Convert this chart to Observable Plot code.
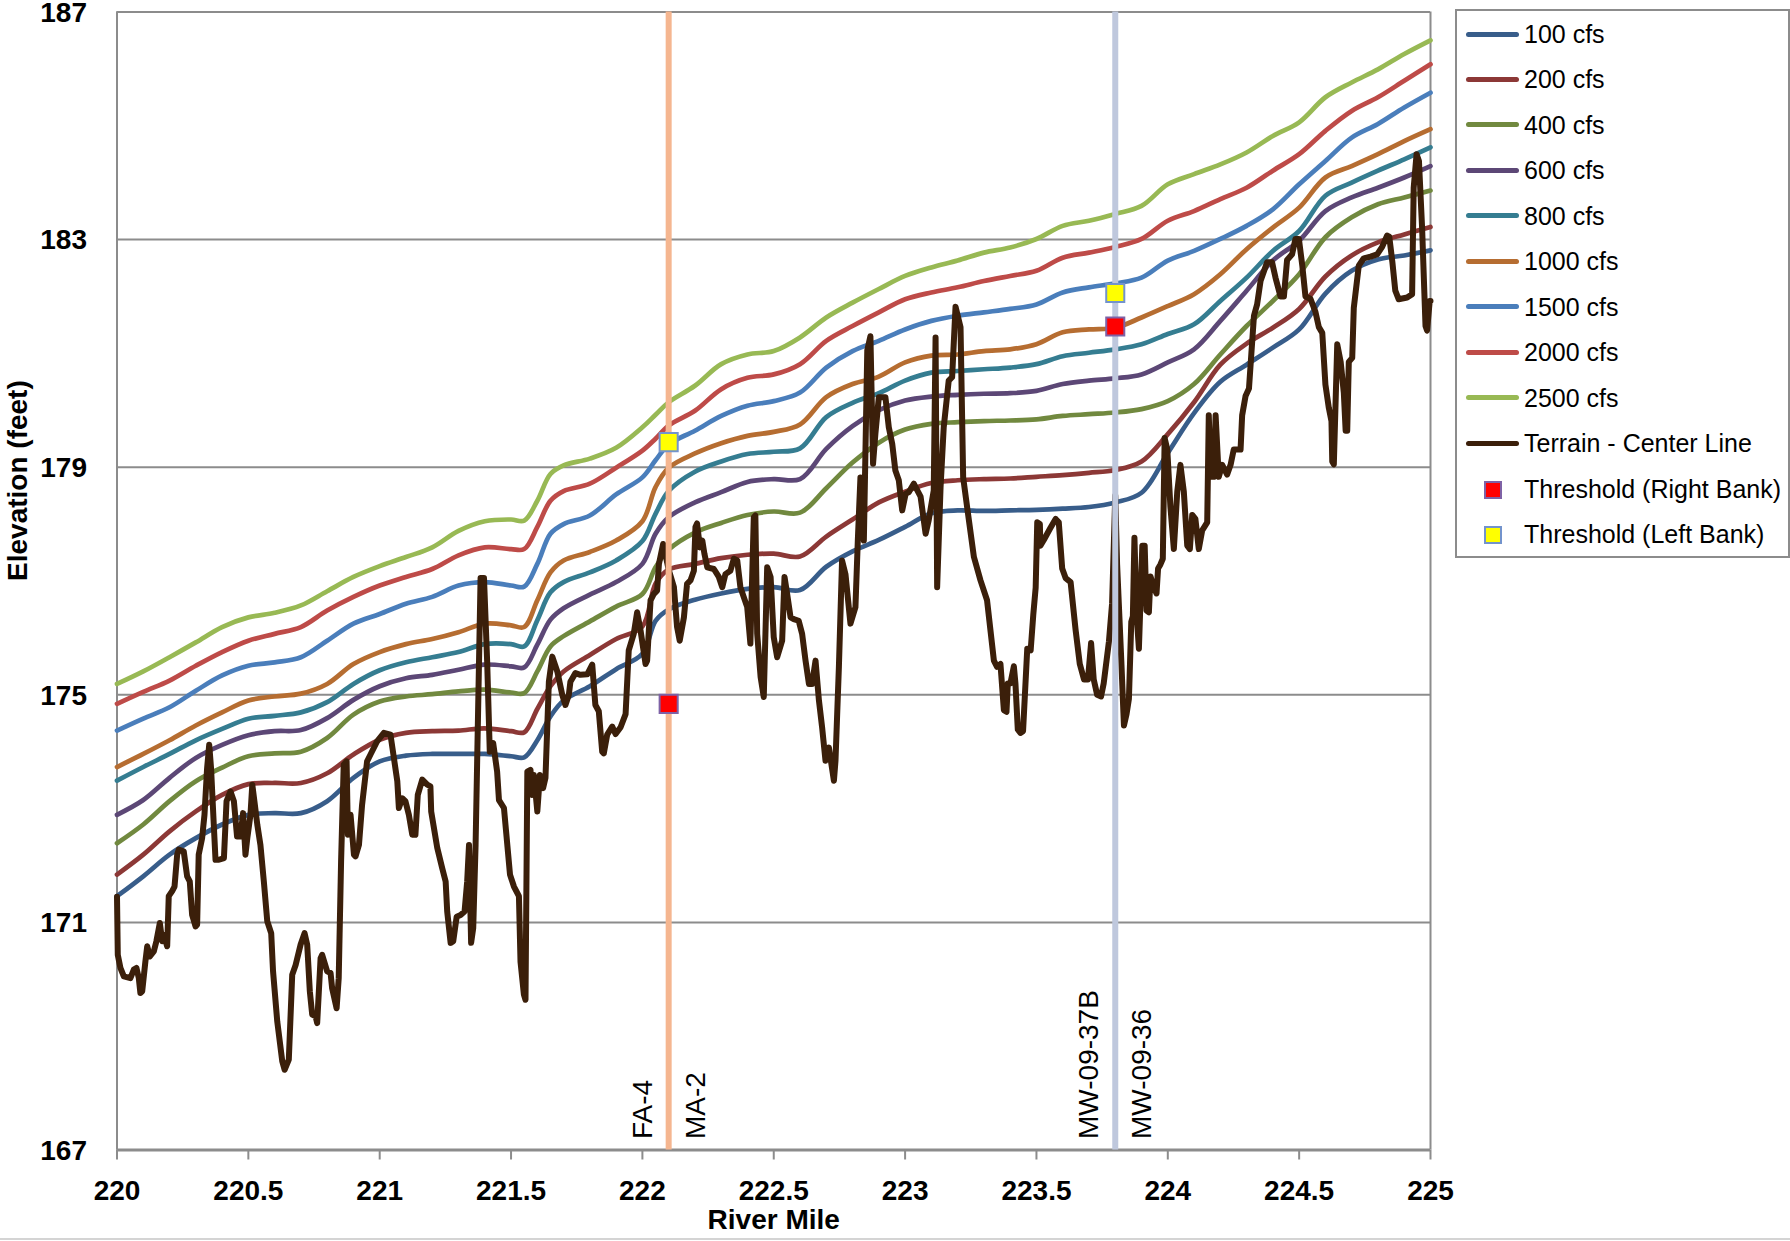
<!DOCTYPE html>
<html>
<head>
<meta charset="utf-8">
<script src="https://cdn.jsdelivr.net/npm/d3@7"></script>
<script src="https://cdn.jsdelivr.net/npm/@observablehq/plot@0.6"></script>
<style>
  html, body { margin: 0; padding: 0; background: #fff; overflow: hidden; }
  #wrap { position: relative; width: 1790px; height: 1241px; font-family: "Liberation Sans", Arial, sans-serif; }
  #legend { position: absolute; left: 1455px; top: 9px; width: 331px; height: 545px; border: 2px solid #8c8c8c; background: #fff; box-sizing: content-box; }
  .row { position: absolute; left: 0; height: 0; }
  .sym-line { position: absolute; left: 9px; width: 53px; height: 5px; top: -2.5px; border-radius: 3px; }
  .sym-sq { position: absolute; left: 27px; width: 14px; height: 14px; top: -8px; border: 2px solid; }
  .lbl { position: absolute; left: 67px; top: -15px; font-size: 25px; line-height: 30px; white-space: nowrap; color: #000; }
  #bottomline { position: absolute; left: 0; top: 1238px; width: 1790px; height: 2px; background: #d4d4d4; }
</style>
</head>
<body>
<div id="wrap"><div id="bottomline"></div></div>
<script>
// ---------------- data ----------------
const flowMiles = [
  220.0, 220.1, 220.2, 220.3, 220.4, 220.5, 220.6, 220.7, 220.8, 220.9,
  221.0, 221.1, 221.2, 221.3, 221.4, 221.5, 221.55, 221.6, 221.65, 221.7,
  221.8, 221.9, 222.0, 222.05, 222.1, 222.2, 222.3, 222.4, 222.5, 222.6,
  222.7, 222.8, 222.9, 223.0, 223.1, 223.2, 223.3, 223.4, 223.5, 223.6,
  223.7, 223.8, 223.9, 224.0, 224.1, 224.2, 224.3, 224.4, 224.5, 224.6,
  224.7, 224.8, 224.9, 225.0
];
const q100 = [
  171.46, 171.81, 172.19, 172.48, 172.72, 172.89, 172.92, 172.92, 173.13, 173.54,
  173.83, 173.93, 173.96, 173.96, 173.96, 173.92, 173.90, 174.20, 174.62, 174.90,
  175.15, 175.45, 175.72, 176.30, 176.50, 176.67, 176.78, 176.86, 176.89, 176.84,
  177.25, 177.52, 177.72, 177.95, 178.19, 178.24, 178.23, 178.24, 178.25, 178.27,
  178.30, 178.38, 178.55, 179.25, 179.95, 180.50, 180.80, 181.10, 181.42, 182.05,
  182.45, 182.65, 182.72, 182.81
];
const q200 = [
  171.84, 172.19, 172.60, 172.95, 173.24, 173.43, 173.45, 173.45, 173.62, 173.95,
  174.21, 174.33, 174.36, 174.37, 174.41, 174.36, 174.34, 174.75, 175.15, 175.41,
  175.70, 175.98, 176.20, 176.95, 177.20, 177.30, 177.40, 177.46, 177.48, 177.43,
  177.78, 178.08, 178.38, 178.57, 178.72, 178.77, 178.79, 178.80, 178.83, 178.86,
  178.90, 178.95, 179.10, 179.58, 180.14, 180.80, 181.17, 181.45, 181.78, 182.35,
  182.72, 182.95, 183.09, 183.22
];
const q400 = [
  172.39, 172.72, 173.13, 173.48, 173.72, 173.92, 173.97, 174.00, 174.24, 174.65,
  174.88, 174.97, 175.01, 175.06, 175.09, 175.04, 175.03, 175.41, 175.85, 176.03,
  176.29, 176.55, 176.77, 177.24, 177.55, 177.85, 178.02, 178.16, 178.22, 178.20,
  178.63, 179.08, 179.43, 179.66, 179.76, 179.79, 179.81, 179.82, 179.84, 179.90,
  179.93, 179.96, 180.02, 180.16, 180.46, 180.98, 181.48, 181.92, 182.39, 183.04,
  183.39, 183.62, 183.74, 183.86
];
const q600 = [
  172.89, 173.15, 173.54, 173.89, 174.12, 174.29, 174.36, 174.38, 174.59, 174.91,
  175.15, 175.29, 175.35, 175.44, 175.53, 175.50, 175.48, 175.88, 176.32, 176.52,
  176.76, 176.98, 177.30, 177.83, 178.12, 178.38, 178.56, 178.74, 178.79, 178.79,
  179.32, 179.72, 180.00, 180.17, 180.24, 180.27, 180.29, 180.30, 180.34, 180.46,
  180.52, 180.56, 180.63, 180.84, 181.07, 181.57, 182.10, 182.63, 182.98, 183.50,
  183.74, 183.91, 184.09, 184.29
];
const q800 = [
  173.49, 173.73, 173.96, 174.20, 174.40, 174.58, 174.63, 174.69, 174.87, 175.19,
  175.43, 175.57, 175.66, 175.75, 175.89, 175.89, 175.85, 176.31, 176.80, 176.98,
  177.15, 177.36, 177.70, 178.18, 178.58, 178.92, 179.10, 179.23, 179.27, 179.33,
  179.88, 180.13, 180.30, 180.52, 180.66, 180.69, 180.72, 180.75, 180.81, 180.95,
  181.01, 181.07, 181.16, 181.34, 181.51, 181.92, 182.33, 182.80, 183.15, 183.77,
  184.00, 184.21, 184.41, 184.62
];
const q1000 = [
  173.73, 173.96, 174.20, 174.46, 174.69, 174.90, 174.97, 175.02, 175.19, 175.54,
  175.75, 175.89, 175.98, 176.10, 176.25, 176.22, 176.19, 176.66, 177.15, 177.36,
  177.51, 177.71, 178.05, 178.65, 178.99, 179.24, 179.42, 179.55, 179.62, 179.75,
  180.23, 180.46, 180.59, 180.84, 180.96, 180.98, 181.04, 181.07, 181.16, 181.37,
  181.42, 181.45, 181.63, 181.83, 182.04, 182.39, 182.83, 183.21, 183.56, 184.09,
  184.29, 184.50, 184.73, 184.94
];
const q1500 = [
  174.37, 174.58, 174.78, 175.07, 175.34, 175.51, 175.57, 175.66, 175.95, 176.25,
  176.42, 176.60, 176.72, 176.92, 176.98, 176.92, 176.90, 177.30, 177.83, 178.00,
  178.15, 178.52, 178.82, 179.12, 179.40, 179.64, 179.90, 180.08, 180.16, 180.31,
  180.75, 181.04, 181.22, 181.42, 181.57, 181.66, 181.72, 181.78, 181.86, 182.07,
  182.16, 182.23, 182.33, 182.63, 182.80, 183.01, 183.24, 183.53, 183.97, 184.38,
  184.79, 185.03, 185.32, 185.58
];
const q2000 = [
  174.84, 175.05, 175.25, 175.51, 175.75, 175.95, 176.07, 176.19, 176.48, 176.72,
  176.92, 177.07, 177.21, 177.45, 177.59, 177.56, 177.56, 177.95, 178.41, 178.58,
  178.71, 178.99, 179.29, 179.50, 179.73, 179.99, 180.37, 180.57, 180.63, 180.81,
  181.22, 181.48, 181.72, 181.95, 182.07, 182.16, 182.27, 182.36, 182.45, 182.68,
  182.77, 182.87, 183.01, 183.33, 183.50, 183.71, 183.91, 184.21, 184.50, 184.91,
  185.26, 185.50, 185.79, 186.08
];
const q2500 = [
  175.19, 175.41, 175.66, 175.92, 176.19, 176.36, 176.44, 176.57, 176.82, 177.07,
  177.26, 177.42, 177.59, 177.88, 178.05, 178.08, 178.06, 178.41, 178.88, 179.03,
  179.15, 179.34, 179.70, 179.92, 180.14, 180.43, 180.81, 180.98, 181.04, 181.28,
  181.63, 181.89, 182.13, 182.36, 182.51, 182.63, 182.77, 182.86, 183.01, 183.24,
  183.33, 183.45, 183.59, 183.97, 184.15, 184.32, 184.53, 184.82, 185.06, 185.50,
  185.76, 185.99, 186.26, 186.50
];
const flowNames = ["100 cfs", "200 cfs", "400 cfs", "600 cfs", "800 cfs", "1000 cfs", "1500 cfs", "2000 cfs", "2500 cfs"];
const flowValues = [q100, q200, q400, q600, q800, q1000, q1500, q2000, q2500];

// Terrain - Center Line: [river mile, elevation]
const terrainProfile = [
  [220.000,171.45],[220.003,170.43],[220.013,170.20],[220.026,170.05],[220.051,170.02],[220.064,170.17],
  [220.074,170.20],[220.083,170.02],[220.089,169.76],[220.096,169.79],[220.108,170.31],[220.115,170.58],
  [220.125,170.40],[220.140,170.49],[220.150,170.67],[220.163,170.99],[220.172,170.67],[220.178,170.78],
  [220.191,170.58],[220.197,171.46],[220.210,171.55],[220.219,171.63],[220.229,172.19],[220.235,172.28],
  [220.254,172.25],[220.267,171.81],[220.277,171.72],[220.286,171.13],[220.299,170.93],[220.305,170.96],
  [220.311,172.19],[220.324,172.48],[220.333,172.89],[220.343,173.71],[220.351,174.12],[220.358,173.71],
  [220.369,172.66],[220.375,172.10],[220.388,172.10],[220.407,172.13],[220.417,173.13],[220.432,173.30],
  [220.445,173.13],[220.457,172.51],[220.470,172.51],[220.480,172.92],[220.489,172.19],[220.496,172.48],
  [220.508,172.89],[220.515,173.42],[220.523,173.13],[220.534,172.72],[220.546,172.36],[220.559,171.72],
  [220.572,171.02],[220.587,170.81],[220.594,170.14],[220.610,169.26],[220.629,168.56],[220.638,168.41],
  [220.654,168.59],[220.667,170.08],[220.680,170.25],[220.699,170.61],[220.714,170.81],[220.724,170.61],
  [220.734,169.79],[220.743,169.38],[220.756,169.35],[220.762,169.23],[220.775,170.37],[220.781,170.43],
  [220.800,170.14],[220.813,170.11],[220.819,169.84],[220.836,169.49],[220.844,170.02],[220.853,172.07],
  [220.863,173.77],[220.874,173.83],[220.879,172.54],[220.889,172.89],[220.902,172.19],[220.908,172.16],
  [220.921,172.36],[220.933,173.07],[220.952,173.83],[220.965,173.95],[220.990,174.18],[221.016,174.33],
  [221.041,174.30],[221.054,173.89],[221.067,173.48],[221.073,173.01],[221.086,173.18],[221.098,173.13],
  [221.111,172.89],[221.124,172.54],[221.136,172.54],[221.145,173.24],[221.162,173.51],[221.181,173.42],
  [221.193,173.39],[221.196,172.95],[221.219,172.31],[221.238,171.95],[221.251,171.72],[221.257,171.19],
  [221.270,170.64],[221.280,170.67],[221.293,171.10],[221.308,171.13],[221.323,171.19],[221.333,171.72],
  [221.340,172.36],[221.348,170.64],[221.356,170.90],[221.365,172.36],[221.371,173.83],[221.384,177.05],
  [221.397,177.05],[221.409,175.59],[221.419,174.00],[221.432,174.15],[221.447,173.65],[221.454,173.15],
  [221.473,173.01],[221.496,171.84],[221.511,171.63],[221.530,171.46],[221.536,170.31],[221.549,169.73],
  [221.555,169.64],[221.562,173.65],[221.574,173.68],[221.580,173.24],[221.587,173.59],[221.600,172.95],
  [221.610,173.59],[221.622,173.36],[221.631,173.54],[221.644,175.23],[221.657,175.67],[221.676,175.41],
  [221.695,175.00],[221.707,174.82],[221.720,175.00],[221.726,175.23],[221.745,175.38],[221.764,175.35],
  [221.790,175.36],[221.809,175.53],[221.821,174.82],[221.834,174.71],[221.847,174.00],[221.853,173.97],
  [221.866,174.30],[221.885,174.44],[221.898,174.31],[221.917,174.43],[221.936,174.66],[221.948,175.78],
  [221.967,176.07],[221.980,176.45],[221.993,176.13],[222.012,175.54],[222.018,175.60],[222.031,176.66],
  [222.043,176.77],[222.056,176.83],[222.063,177.30],[222.079,177.65],[222.100,177.20],[222.120,176.89],
  [222.132,176.19],[222.142,175.95],[222.158,176.36],[222.170,176.95],[222.183,177.01],[222.196,177.18],
  [222.202,177.95],[222.208,178.01],[222.219,177.59],[222.228,177.71],[222.236,177.48],[222.247,177.24],
  [222.272,177.21],[222.291,177.07],[222.304,176.89],[222.316,177.12],[222.335,177.18],[222.348,177.39],
  [222.361,177.36],[222.373,176.89],[222.399,176.54],[222.411,175.90],[222.424,178.12],[222.430,178.15],
  [222.437,176.07],[222.450,175.31],[222.462,174.96],[222.475,177.24],[222.488,177.07],[222.500,176.01],
  [222.513,175.66],[222.532,175.95],[222.541,177.07],[222.551,176.77],[222.564,176.36],[222.576,176.33],
  [222.595,176.30],[222.608,176.07],[222.621,175.60],[222.634,175.19],[222.646,175.19],[222.659,175.60],
  [222.672,174.90],[222.684,174.43],[222.697,173.84],[222.710,174.07],[222.729,173.49],[222.735,173.84],
  [222.748,175.49],[222.760,177.36],[222.773,177.12],[222.792,176.25],[222.811,176.54],[222.820,177.71],
  [222.830,178.82],[222.843,177.71],[222.856,181.05],[222.868,181.30],[222.878,179.06],[222.887,179.59],
  [222.900,180.23],[222.925,180.23],[222.938,179.70],[222.951,179.41],[222.963,178.94],[222.976,178.77],
  [222.989,178.24],[223.002,178.53],[223.014,178.56],[223.033,178.71],[223.059,178.48],[223.078,177.83],
  [223.090,178.07],[223.109,178.59],[223.116,181.28],[223.122,176.89],[223.135,178.65],[223.147,179.70],
  [223.166,180.52],[223.179,180.58],[223.192,181.82],[223.211,181.46],[223.221,178.82],[223.236,178.30],
  [223.262,177.42],[223.287,177.01],[223.312,176.66],[223.338,175.60],[223.350,175.49],[223.363,175.54],
  [223.376,174.73],[223.386,174.70],[223.391,175.20],[223.401,175.20],[223.414,175.50],[223.420,175.20],
  [223.429,174.39],[223.439,174.33],[223.449,174.36],[223.465,175.81],[223.478,175.78],[223.488,176.41],
  [223.497,176.88],[223.503,178.03],[223.513,178.00],[223.515,177.62],[223.528,177.72],[223.541,177.83],
  [223.553,177.93],[223.573,178.09],[223.585,178.03],[223.598,177.22],[223.611,177.05],[223.630,176.98],
  [223.649,176.14],[223.665,175.54],[223.681,175.27],[223.696,175.27],[223.708,175.91],[223.718,175.27],
  [223.731,175.00],[223.746,174.97],[223.756,175.20],[223.776,175.94],[223.788,176.61],[223.800,178.50],
  [223.807,177.29],[223.823,175.60],[223.833,174.46],[223.843,174.66],[223.852,174.93],[223.861,176.28],
  [223.867,176.38],[223.873,177.76],[223.881,176.42],[223.890,175.81],[223.903,177.62],[223.912,177.62],
  [223.919,176.48],[223.928,176.45],[223.934,177.08],[223.947,176.88],[223.957,176.78],[223.963,177.22],
  [223.972,177.29],[223.981,177.39],[223.988,179.51],[223.998,179.31],[224.010,178.30],[224.023,177.56],
  [224.036,178.57],[224.048,179.04],[224.061,178.57],[224.074,177.62],[224.084,177.56],[224.093,178.16],
  [224.105,178.09],[224.118,177.56],[224.131,177.89],[224.150,178.03],[224.156,179.91],[224.163,178.83],
  [224.175,178.83],[224.182,179.91],[224.194,178.83],[224.207,179.04],[224.226,178.87],[224.239,179.04],
  [224.251,179.31],[224.264,179.31],[224.277,179.31],[224.283,179.91],[224.296,180.25],[224.309,180.38],
  [224.318,180.99],[224.328,181.66],[224.340,181.86],[224.353,182.27],[224.378,182.60],[224.397,182.60],
  [224.410,182.33],[224.429,182.00],[224.442,182.00],[224.454,182.64],[224.473,182.74],[224.486,183.01],
  [224.499,183.01],[224.512,182.54],[224.524,182.00],[224.543,181.96],[224.562,181.73],[224.575,181.46],
  [224.588,181.36],[224.600,180.45],[224.613,180.04],[224.623,179.81],[224.626,179.10],[224.632,179.05],
  [224.645,181.16],[224.658,180.85],[224.670,180.31],[224.677,179.64],[224.683,179.64],[224.689,180.85],
  [224.702,180.92],[224.708,181.80],[224.727,182.54],[224.746,182.67],[224.772,182.70],[224.797,182.74],
  [224.816,182.87],[224.835,183.07],[224.843,183.05],[224.855,182.60],[224.866,182.10],[224.879,181.95],
  [224.911,181.98],[224.930,182.04],[224.936,183.91],[224.947,184.50],[224.956,184.38],[224.968,183.21],
  [224.981,181.48],[224.987,181.40],[224.997,181.92],[225.000,181.92]
];

const rightBankMile = [222.1, 223.8];
const rightBankElev = [174.84, 181.47];
const leftBankMile = [222.1, 223.8];
const leftBankElev = [179.44, 182.06];

const wellLineMiles = [222.1, 223.8];
const wellLeftNames = ["FA-4", "MW-09-37B"];
const wellLeftMiles = [222.1, 223.8];
const wellRightNames = ["MA-2", "MW-09-36"];
const wellRightMiles = [222.1, 223.8];

const xTicks = [220, 220.5, 221, 221.5, 222, 222.5, 223, 223.5, 224, 224.5, 225];
const yTicks = [167, 171, 175, 179, 183, 187];

// ---------------- styles ----------------
const flowColors = ["#385D8A", "#8C3836", "#71893F", "#5C4776", "#357D91", "#B66D31", "#4A7EBB", "#BE4B48", "#98B954"];
const terrainColor = "#3B1F0A";
const wellLineColors = ["#F5B690", "#BFC8DD"];
const gridColor = "#8c8c8c";

// ---------------- build ----------------
const flowData = flowNames.flatMap((name, k) =>
  flowMiles.map((m, i) => ({series: name, mile: m, elev: flowValues[k][i]})));
const terrain = terrainProfile.map(([mile, elev]) => ({mile, elev}));
const rightBank = rightBankMile.map((m, i) => ({mile: m, elev: rightBankElev[i]}));
const leftBank = leftBankMile.map((m, i) => ({mile: m, elev: leftBankElev[i]}));
const wellLines = wellLineMiles.map((m, i) => ({mile: m, color: wellLineColors[i]}));
const wellsLeft = wellLeftNames.map((n, i) => ({name: n, mile: wellLeftMiles[i], base: yTicks[0]}));
const wellsRight = wellRightNames.map((n, i) => ({name: n, mile: wellRightMiles[i], base: yTicks[0]}));

const chart = Plot.plot({
  width: 1790,
  height: 1241,
  marginLeft: 116.5,
  marginRight: 360,
  marginTop: 11.4,
  marginBottom: 91.5,
  x: {domain: [220, 225]},
  y: {domain: [167, 187]},
  style: {fontFamily: "'Liberation Sans', Arial, sans-serif", background: "transparent", color: "black", overflow: "visible"},
  marks: [
    Plot.ruleY(yTicks.slice(1), {stroke: gridColor, strokeWidth: 2}),
    Plot.ruleX([220, 225], {stroke: gridColor, strokeWidth: 2}),
    Plot.ruleY([167], {stroke: gridColor, strokeWidth: 3}),
    Plot.axisX({ticks: xTicks, tickSize: 10, tickPadding: 20, stroke: gridColor, strokeWidth: 2,
      fill: "black", fontSize: 28, fontWeight: "bold", tickFormat: d => String(d), label: null}),
    Plot.axisY({ticks: yTicks, tickSize: 0, tickPadding: 30, fill: "black", dy: 1,
      fontSize: 28, fontWeight: "bold", tickFormat: d => String(d), label: null}),
    ...flowNames.map((name, k) =>
      Plot.line(flowData.filter(d => d.series === name), {
        x: "mile", y: "elev", stroke: flowColors[k], strokeWidth: 4.7,
        curve: "catmull-rom", strokeLinejoin: "round", strokeLinecap: "round"
      })),
    Plot.line(terrain, {x: "mile", y: "elev", stroke: terrainColor, strokeWidth: 6,
      strokeLinejoin: "round", strokeLinecap: "round"}),
    Plot.ruleX(wellLines, {x: "mile", stroke: "color", strokeWidth: 6}),
    Plot.dot(rightBank, {x: "mile", y: "elev", symbol: "square", r: 10.2, fill: "#FF0000", stroke: "#7E62A6", strokeWidth: 2}),
    Plot.dot(leftBank, {x: "mile", y: "elev", symbol: "square", r: 10.2, fill: "#FFFF00", stroke: "#7393CC", strokeWidth: 2}),
    Plot.text(wellsLeft, {x: "mile", y: "base", text: "name", rotate: -90, textAnchor: "start",
      lineAnchor: "middle", dx: -26, dy: -11, fontSize: 28, fill: "black"}),
    Plot.text(wellsRight, {x: "mile", y: "base", text: "name", rotate: -90, textAnchor: "start",
      lineAnchor: "middle", dx: 27, dy: -11, fontSize: 28, fill: "black"}),
    Plot.text(["Elevation (feet)"], {frameAnchor: "left", dx: -99, rotate: -90, lineAnchor: "middle",
      fontSize: 28, fontWeight: "bold", fill: "black"}),
    Plot.text(["River Mile"], {frameAnchor: "bottom", dy: 70, lineAnchor: "middle",
      fontSize: 28, fontWeight: "bold", fill: "black"})
  ]
});

const wrap = document.getElementById("wrap");
chart.style.position = "absolute";
chart.style.left = "0px";
chart.style.top = "0px";
wrap.appendChild(chart);

// legend
const legend = document.createElement("div");
legend.id = "legend";
const legendItems = flowNames.map((n, k) => ({label: n, type: "line", color: flowColors[k]}))
  .concat([{label: "Terrain - Center Line", type: "line", color: terrainColor},
           {label: "Threshold (Right Bank)", type: "sq", color: "#FF0000", border: "#7E62A6"},
           {label: "Threshold (Left Bank)", type: "sq", color: "#FFFF00", border: "#7393CC"}]);
legendItems.forEach((it, i) => {
  const row = document.createElement("div");
  row.className = "row";
  row.style.top = (23 + i * 45.45) + "px";
  const sym = document.createElement("div");
  if (it.type === "line") {
    sym.className = "sym-line";
    sym.style.background = it.color;
  } else {
    sym.className = "sym-sq";
    sym.style.background = it.color;
    sym.style.borderColor = it.border;
  }
  const lbl = document.createElement("div");
  lbl.className = "lbl";
  lbl.textContent = it.label;
  row.appendChild(sym);
  row.appendChild(lbl);
  legend.appendChild(row);
});
wrap.appendChild(legend);
</script>
</body>
</html>
